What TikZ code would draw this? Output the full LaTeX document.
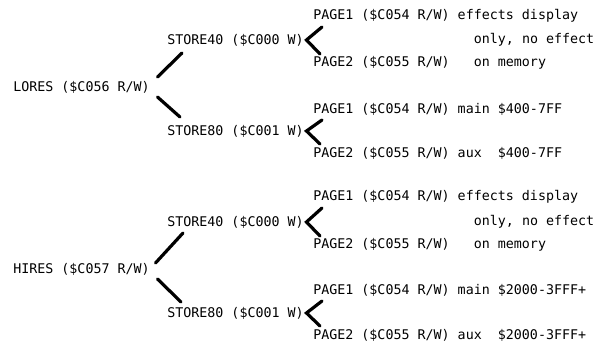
\documentclass[tikz,border=0pt]{standalone}
\usepackage{fontspec}
\setmonofont{DejaVu Sans Mono}
\usepackage{tikz}

\tikzset{
	lbl/.style={anchor=west, inner sep=0pt, font=\ttfamily\fontsize{10}{12}\selectfont},
	branch/.style={line width=2.4pt, line cap=round},
}

\begin{document}
\begin{tikzpicture}[x=0.75pt,y=-0.75pt]
	%\draw[step=10,gray,very thin] (0,0) grid (600,344);
	\useasboundingbox (0,0) rectangle (600,344);
	% LORES half
	\node[lbl] (lores) at (13,87) {LORES (\$C056 R/W)};
	\node[lbl] (st40a) at (167,40) {STORE40 (\$C000 W)};
	\node[lbl] (st80a) at (167,131) {STORE80 (\$C001 W)};
	\node[lbl] (p1a) at (313,16) {PAGE1 (\$C054 R/W) effects display};
	\node[lbl] (onlya) at (473.6,40) {only, no effect};
	\node[lbl] (p2a) at (313,63) {PAGE2 (\$C055 R/W)~~~on memory};
	\node[lbl] (p1b) at (313,109) {PAGE1 (\$C054 R/W) main \$400-7FF};
	\node[lbl] (p2b) at (313,153) {PAGE2 (\$C055 R/W) aux~~\$400-7FF};
	% HIRES half
	\node[lbl] (hires) at (13,269) {HIRES (\$C057 R/W)};
	\node[lbl] (st40b) at (167,222) {STORE40 (\$C000 W)};
	\node[lbl] (st80b) at (167,313) {STORE80 (\$C001 W)};
	\node[lbl] (p1c) at (313,197) {PAGE1 (\$C054 R/W) effects display};
	\node[lbl] (onlyb) at (473.6,222) {only, no effect};
	\node[lbl] (p2c) at (313,245) {PAGE2 (\$C055 R/W)~~~on memory};
	\node[lbl] (p1d) at (313,290) {PAGE1 (\$C054 R/W) main \$2000-3FFF+};
	\node[lbl] (p2d) at (313,335) {PAGE2 (\$C055 R/W) aux~~\$2000-3FFF+};

	\draw[branch] ([shift={(7.5,-10)}]lores.east) -- ([shift={(15,13)}]st40a.west);
	\draw[branch] ([shift={(7.5,10)}]lores.east) -- ([shift={(13,-14)}]st80a.west);
	\draw[branch] ([shift={(5.5,-6)}]hires.east) -- ([shift={(16,11)}]st40b.west);
	\draw[branch] ([shift={(7.5,10)}]hires.east) -- ([shift={(14,-11)}]st80b.west);

	\foreach \s/\a/\b in {st40a/p1a/p2a, st80a/p1b/p2b, st40b/p1c/p2c, st80b/p1d/p2d}
		\draw[branch] ([shift={(9,11)}]\a.west) -- ([shift={(2.5,0)}]\s.east) -- ([shift={(7,-9)}]\b.west);
\end{tikzpicture}
\end{document}
